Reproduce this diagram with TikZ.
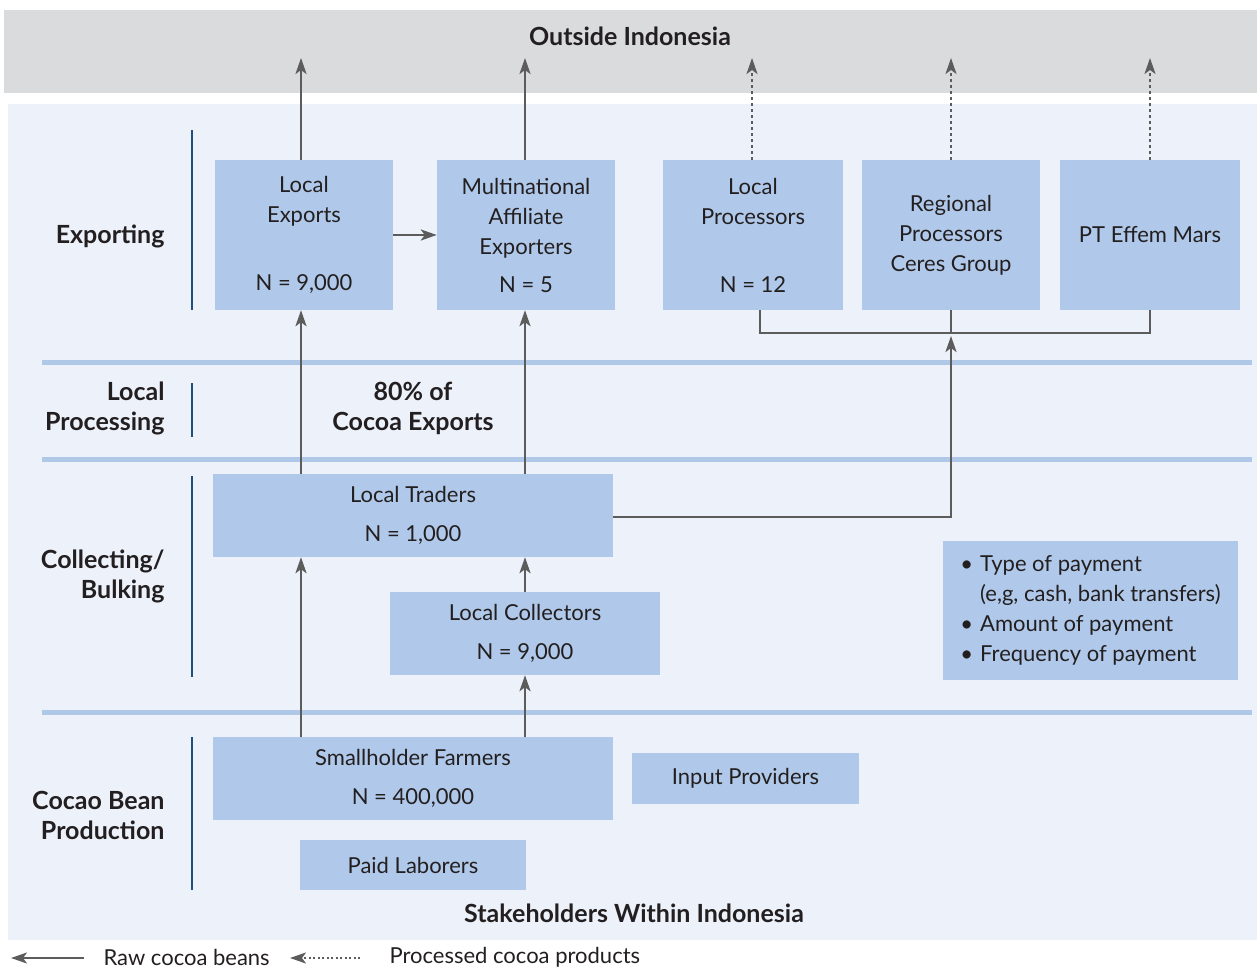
\documentclass[tikz,border=0pt]{standalone}
\usepackage{fontspec}
\setmainfont{Lato}
\usetikzlibrary{arrows.meta}
\definecolor{bgblue}{RGB}{236,241,250}
\definecolor{bandgray}{RGB}{217,219,221}
\definecolor{boxblue}{RGB}{176,201,234}
\definecolor{sepblue}{RGB}{176,200,232}
\definecolor{darkblue}{RGB}{31,78,128}
\definecolor{arrgray}{RGB}{92,92,92}
\definecolor{txt}{RGB}{35,31,32}
\tikzset{
  boxnode/.style={fill=boxblue, draw=none, inner sep=0pt, align=center, text=txt,
    font=\fontsize{22}{30}\selectfont},
  lbl/.style={anchor=east, align=right, text=txt, font=\fontsize{25}{30}\selectfont\bfseries},
  plain/.style={text=txt, font=\fontsize{22}{30}\selectfont},
  heading/.style={text=txt, font=\fontsize{25}{30}\selectfont\bfseries},
  tip/.style={-{Stealth[length=16pt,width=11pt,inset=4pt]}},
  arr/.style={draw=arrgray, line width=2.5pt, tip},
  darr/.style={draw=arrgray, line width=2pt, dash pattern=on 3pt off 3pt, tip},
  brk/.style={draw=arrgray, line width=2.5pt},
  sepline/.style={draw=sepblue, line width=5pt},
  vline/.style={draw=darkblue, line width=2.5pt},
}
\begin{document}
\begin{tikzpicture}[x=1pt,y=-1pt]
\useasboundingbox (0,0) rectangle (1257,973);
\fill[white] (0,0) rectangle (1257,973);
% backgrounds
\fill[bandgray] (4,10) rectangle (1257,93);
\fill[bgblue] (8,104) rectangle (1257,940);
\node[heading] (outside) at (630,36) {Outside Indonesia};
\node[heading] (within) at (634,913) {Stakeholders Within Indonesia};
% separators
\draw[sepline] (42,362) -- (1252,362);
\draw[sepline] (42,459) -- (1252,459);
\draw[sepline] (42,712) -- (1252,712);
% left labels
\node[lbl] (l1) at (168,236) {Exporting};
\draw[vline] (192,130) -- (192,310);
\node[lbl] (l2) at (168,408) {Local\\Processing};
\draw[vline] (192,383) -- (192,437);
\node[lbl] (l3) at (168,576) {Collecting/\\Bulking};
\draw[vline] (192,476) -- (192,677);
\node[lbl] (l4) at (168,815) {Cocao Bean\\Production};
\draw[vline] (192,737) -- (192,890);
\node[heading, align=center] (pct) at (413,408) {80\% of\\Cocoa Exports};
% exporting boxes
\node[boxnode, minimum width=178, minimum height=150] (le) at (304,235) {Local\\Exports\\[38pt]N = 9,000};
\node[boxnode, minimum width=178, minimum height=150] (ma) at (526,235) {Multinational\\Affiliate\\Exporters\\[8pt]N = 5};
\node[boxnode, minimum width=180, minimum height=150] (lp) at (753,235) {Local\\Processors\\[38pt]N = 12};
\node[boxnode, minimum width=178, minimum height=150] (rp) at (951,235) {Regional\\Processors\\Ceres Group};
\node[boxnode, minimum width=180, minimum height=150] (pt) at (1150,235) {PT Effem Mars};
% lower boxes
\node[boxnode, minimum width=400, minimum height=83] (lt) at (413,515.5) {Local Traders\\[9pt]N = 1,000};
\node[boxnode, minimum width=270, minimum height=83] (lc) at (525,633.5) {Local Collectors\\[9pt]N = 9,000};
\node[boxnode, minimum width=400, minimum height=83] (sf) at (413,778.5) {Smallholder Farmers\\[9pt]N = 400,000};
\node[boxnode, minimum width=227, minimum height=51] (ip) at (745.5,778.5) {Input Providers};
\node[boxnode, minimum width=226, minimum height=50] (pl) at (413,865) {Paid Laborers};
\node[boxnode, minimum width=295, minimum height=139] (pay) at (1090.5,610.5)
  {\begin{tabular}{@{}l@{\hspace{7pt}}l@{}}\textbullet & Type of payment\\ & (e,g, cash, bank transfers)\\ \textbullet & Amount of payment\\ \textbullet & Frequency of payment\end{tabular}};
% top free ends
\coordinate (t1) at (301,58);
\coordinate (t2) at (525,58);
\coordinate (t3) at (752,58);
\coordinate (t4) at (951,58);
\coordinate (t5) at (1150,58);
\draw[arr] (le.north -| t1) -- (t1);
\draw[arr] (ma.north -| t2) -- (t2);
\draw[darr] (lp.north -| t3) -- (t3);
\draw[darr] (rp.north -| t4) -- (t4);
\draw[darr] (pt.north -| t5) -- (t5);
% horizontal arrow
\draw[arr] (le.east) -- (ma.west);
% bracket
\coordinate (bk) at (951,333);
\draw[brk] (lp.south -| 760,0) |- (bk) -| (pt.south);
\draw[brk] (rp.south) -- (bk);
\coordinate (bkt) at (951,336);
\draw[arr] (lt.east |- 0,517) -| (bkt);
% vertical flows
\draw[arr] (lt.north -| t1) -- (le.south -| t1);
\draw[arr] (lt.north -| t2) -- (ma.south -| t2);
\draw[arr] (lc.north) -- (lt.south -| lc.north);
\draw[arr] (sf.north -| t1) -- (lt.south -| t1);
\draw[arr] (sf.north -| t2) -- (lc.south -| t2);
% legend
\coordinate (g1a) at (84,958);
\coordinate (g1b) at (11,958);
\coordinate (g2a) at (360,958);
\coordinate (g2b) at (290,958);
\draw[arr, line width=2pt] (g1a) -- (g1b);
\draw[darr, dash pattern=on 2pt off 2.5pt] (g2a) -- (g2b);
\node[plain, anchor=west, inner ysep=1pt] (leg1) at (100,957) {Raw cocoa beans};
\node[plain, anchor=west, inner ysep=1pt] (leg2) at (386,957) {Processed cocoa products};
\end{tikzpicture}
\end{document}
